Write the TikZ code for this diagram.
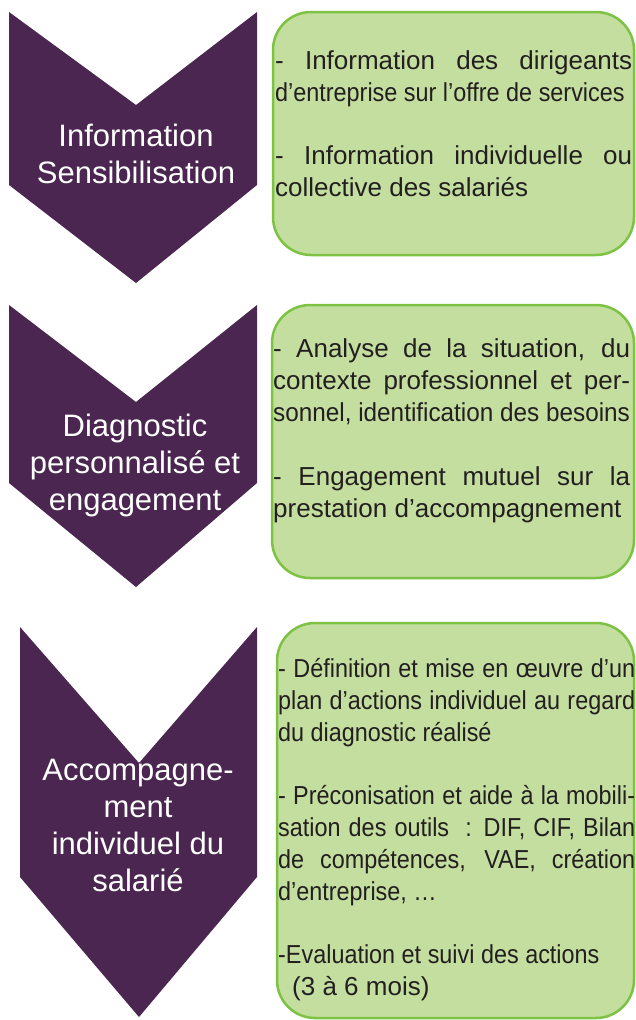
\documentclass[tikz,border=0pt]{standalone}
\usepackage{fontspec}
\setmainfont{Liberation Sans}
\newfontfamily\narrowfont[FakeStretch=0.9]{Liberation Sans}
\newfontfamily\serrefont[FakeStretch=0.935]{Liberation Sans}
\definecolor{violetfonce}{HTML}{4A2650}
\definecolor{vertclair}{HTML}{C3DE9F}
\definecolor{vertbord}{HTML}{7DC243}
\definecolor{texte}{HTML}{231F20}
\hyphenpenalty=10000
\tolerance=10000
\hbadness=10000

\begin{document}
\begin{tikzpicture}[x=1pt,y=-1pt,
	chevron/.style={fill=violetfonce},
	encadre/.style={draw=vertbord,line width=2.5pt,fill=vertclair,rounded corners=38pt}]
	\useasboundingbox (0,0) rectangle (635,1020);

	% les trois etapes
	\fill[chevron] (9,12) -- (136,105) -- (257,12) -- (257,185) -- (136,283) -- (9,185) -- cycle;
	\fill[chevron] (9,305) -- (136,402) -- (257,305) -- (257,483) -- (136,587) -- (9,483) -- cycle;
	\fill[chevron] (20,627) -- (139,763) -- (257,627) -- (257,877) -- (139,1017) -- (20,877) -- cycle;

	% les cadres
	\draw[encadre] (273,12) rectangle (634,255);
	\draw[encadre] (272,305) rectangle (634,578);
	\draw[encadre] (277,623) rectangle (634,1018);

	\begin{scope}[every node/.style={text=white,align=center,font=\fontsize{31}{37}\selectfont}]
		\node (info) at (136,154) {Information\\Sensibilisation};
		\node (diag) at (135,465) {Diagnostic\\personnalisé et\\engagement};
		\node (accomp) at (138,825) {Accompagne-\\ment\\individuel du\\salarié};
	\end{scope}

	\begin{scope}[every node/.style={anchor=base west,inner sep=0pt,text width=357pt,align=justify,text=texte,font=\fontsize{26}{32}\selectfont}]
		\node (infotxt) at (275,69) {- Information des dirigeants\linebreak
			{\narrowfont d’entreprise sur l’offre de services}\par\vspace{31pt}
			- Information individuelle ou\linebreak collective des salariés};
		\node (diagtxt) at (273,357) {- Analyse de la situation, du\linebreak
			contexte professionnel et per-\linebreak
			{\serrefont sonnel, identification des besoins}\par\vspace{32pt}
			- Engagement mutuel sur la\linebreak prestation d’accompagnement};
		\node (accomptxt) at (278,677) {\narrowfont - Définition et mise en œuvre d’un\linebreak
			plan d’actions individuel au regard\linebreak
			du diagnostic réalisé\par\vspace{31pt}
			- Préconisation et aide à la mobili-\linebreak
			sation des outils~~: DIF, CIF, Bilan\linebreak
			de compétences, VAE, création\linebreak
			d’entreprise, …\par\vspace{31pt}
			-Evaluation et suivi des actions\par
			\hspace*{14pt}{\normalfont (3 à 6 mois)}};
	\end{scope}
\end{tikzpicture}
\end{document}
